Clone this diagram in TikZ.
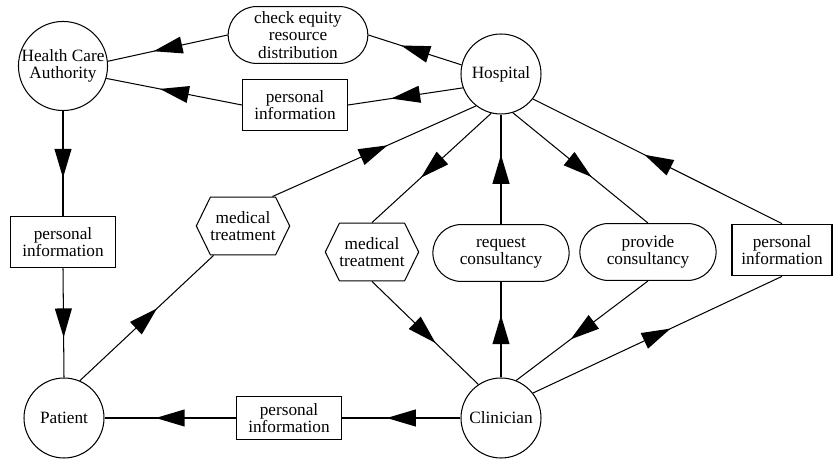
\documentclass[tikz,border=0pt]{standalone}
\usepackage{fontspec}
\setmainfont{Liberation Serif}
\usetikzlibrary{shapes.misc,shapes.symbols,decorations.markings}

\tikzset{
    actor/.style={draw, circle, minimum size=46.4pt, inner sep=0pt, align=center},
    info/.style={draw, rectangle, minimum width=61pt, minimum height=30pt, inner sep=0pt, align=center},
    service/.style={draw, rounded rectangle, minimum width=79pt, minimum height=33pt, inner sep=0pt, align=center},
    treat/.style={draw, signal, signal to=east and west, signal pointer angle=128,
        minimum width=54pt, minimum height=33.6pt, inner sep=0pt, align=center},
    % big black triangle in the middle of every connector
    flow/.style={decoration={markings, mark=at position 0.5 with {%
        \fill (8.4pt,0pt) -- (-8.4pt,5pt) -- (-8.4pt,-5pt) -- cycle;}},
        postaction={decorate}},
}

\begin{document}
\begin{tikzpicture}[x=0.58pt, y=-0.58pt, line width=0.6pt,
    font=\fontsize{10pt}{10pt}\selectfont]
    \useasboundingbox (0,0) rectangle (833,460);

    % The four parties
    \node[actor, minimum size=51pt] (hca) at (63,66) {Health Care\\Authority};
    \node[actor] (hosp) at (501,74) {Hospital};
    \node[actor] (pat) at (64,418) {Patient};
    \node[actor] (clin) at (501,418) {Clinician};

    % What flows between them
    \node[service, minimum width=81pt] (ceq) at (298,35) {check equity\\resource\\distribution};
    \node[info] (pitop) at (295,105) {personal\\information};
    \node[info] (pileft) at (63,242) {personal\\information};
    \node[info, minimum height=25pt] (pibot) at (289,418) {personal\\information};
    \node[info, minimum width=58pt] (piright) at (782,250) {personal\\information};
    \node[treat] (medL) at (243,226) {medical\\treatment};
    \node[treat] (medR) at (372,252) {medical\\treatment};
    \node[service] (reqc) at (501,253) {request\\consultancy};
    \node[service] (provc) at (648,252) {provide\\consultancy};

    % Connectors, drawn in the direction of the flow
    \foreach \a/\b in {hosp.167/ceq.east, ceq.west/hca.6,
                       hosp.200/pitop.east, pitop.west/hca.344,
                       hca.south/pileft.north, pileft.south/pat.north,
                       pat.67/medL.225, medL.45/hosp.232,
                       hosp.256/medR.north, medR.south/clin.124,
                       clin.north/reqc.south, reqc.north/hosp.south,
                       hosp.287/provc.north, provc.south/clin.68,
                       clin.38/piright.south, piright.north/hosp.322,
                       clin.west/pibot.east, pibot.west/pat.east} {
        \draw[flow] (\a) -- (\b);
    }

\end{tikzpicture}
\end{document}
